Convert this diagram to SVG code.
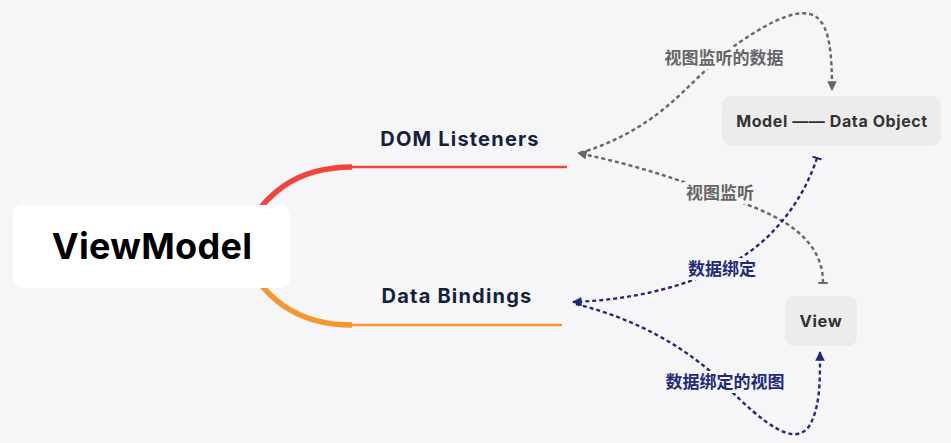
<svg xmlns="http://www.w3.org/2000/svg" width="951" height="443" viewBox="0 0 951 443">
<defs>
<marker id="arrG" viewBox="0 0 10 10" refX="9" refY="5" markerWidth="4" markerHeight="4" orient="auto" markerUnits="strokeWidth"><path d="M0,0 L10,5 L0,10 z" fill="#666666"/></marker>
<marker id="arrB" viewBox="0 0 10 10" refX="9" refY="5" markerWidth="4" markerHeight="4" orient="auto" markerUnits="strokeWidth"><path d="M0,0 L10,5 L0,10 z" fill="#1f2a7c"/></marker>
<marker id="barG" viewBox="0 0 10 10" refX="1" refY="5" markerWidth="4" markerHeight="4" orient="auto" markerUnits="strokeWidth"><path d="M0,0 L2,0 L2,10 L0,10 z" fill="#666666"/></marker>
<marker id="barB" viewBox="0 0 10 10" refX="1" refY="5" markerWidth="4" markerHeight="4" orient="auto" markerUnits="strokeWidth"><path d="M0,0 L2,0 L2,10 L0,10 z" fill="#1f2a7c"/></marker>
</defs>
<style>
.bg{fill:#f6f6f9}
.en{font-family:Inter,"Open Sans","Liberation Sans",sans-serif;font-weight:700}
.zh{font-family:"Noto Sans CJK SC",sans-serif;font-weight:700;font-size:17px}
.g{fill:none;stroke:#666666;stroke-width:2.4;stroke-dasharray:4 3}
.b{fill:none;stroke:#1f2a7c;stroke-width:2.4;stroke-dasharray:4 3}
.lbl{fill:#f6f6f9}
.sub{fill:#ececec}
</style>
<rect class="bg" x="0" y="0" width="951" height="443"/>
<g id="branches">
<path d="M238,246 C262,190 300,167 352,167" fill="none" stroke="#f0453a" stroke-width="5.5"/>
<path d="M350,167 L567,167" stroke="#f0453a" stroke-width="2.5"/>
<path d="M238,246 C262,302 300,325 352,325" fill="none" stroke="#f7952f" stroke-width="5.5"/>
<path d="M350,325 L562,325" stroke="#f7952f" stroke-width="2.5"/>
</g>
<g id="connectors">
<path class="g" d="M580,153 C670,125 690,75 740,42 C775,18 800,8 815,16 C830,25 832,55 832,90" marker-end="url(#arrG)"/>
<path class="g" d="M823,283 C823,240 785,218 740,202 C680,180 640,166 578,153" marker-start="url(#barG)" marker-end="url(#arrG)"/>
<path class="b" d="M817,158 C800,210 762,250 722,268 C680,288 630,300 573,302" marker-start="url(#barB)" marker-end="url(#arrB)"/>
<path class="b" d="M576,304 C640,320 690,350 725,385 C765,425 795,448 810,425 C820,405 820,385 820,352" marker-end="url(#arrB)"/>
</g>
<g id="labels">
<rect class="lbl" x="660" y="47" width="128" height="22"/>
<text class="zh" x="724" y="64" text-anchor="middle" fill="#666666">视图监听的数据</text>
<rect class="lbl" x="683" y="182" width="74" height="22"/>
<text class="zh" x="720" y="199" text-anchor="middle" fill="#666666">视图监听</text>
<rect class="lbl" x="685" y="258" width="74" height="22"/>
<text class="zh" x="722" y="275" text-anchor="middle" fill="#1f2a7c">数据绑定</text>
<rect class="lbl" x="661" y="371" width="128" height="22"/>
<text class="zh" x="725" y="388" text-anchor="middle" fill="#1f2a7c">数据绑定的视图</text>
</g>
<g id="viewmodel">
<rect x="13" y="205" width="277" height="83" rx="9" fill="#ffffff"/>
<text class="en" x="152" y="259" text-anchor="middle" font-size="36" letter-spacing="0.3" fill="#000000">ViewModel</text>
</g>
<g id="dom-listeners">
<text class="en" x="460" y="146" text-anchor="middle" font-size="20" letter-spacing="1.2" fill="#14213d">DOM Listeners</text>
</g>
<g id="data-bindings">
<text class="en" x="457" y="303" text-anchor="middle" font-size="20" letter-spacing="1.2" fill="#14213d">Data Bindings</text>
</g>
<g id="model">
<rect class="sub" x="722" y="96" width="219" height="50" rx="9"/>
<text class="en" x="832" y="127" text-anchor="middle" font-size="16" letter-spacing="0.6" fill="#333333">Model —— Data Object</text>
</g>
<g id="view">
<rect class="sub" x="785" y="296" width="72" height="50" rx="9"/>
<text class="en" x="821" y="327" text-anchor="middle" font-size="16.5" letter-spacing="0.6" fill="#333333">View</text>
</g>
</svg>
